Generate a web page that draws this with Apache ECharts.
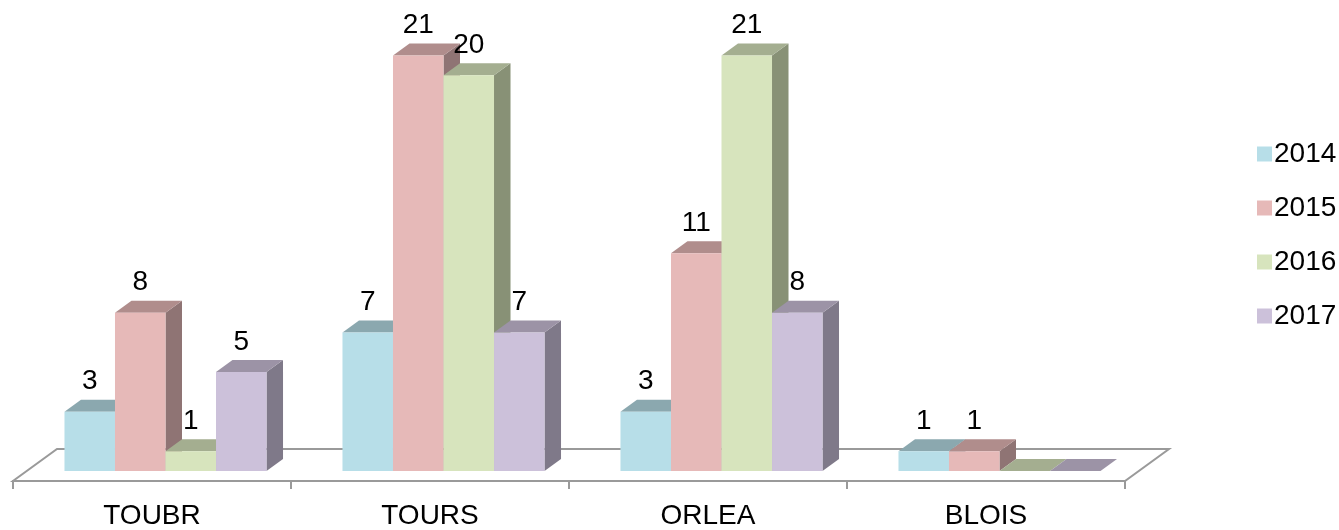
<!DOCTYPE html>
<html>
<head>
<meta charset="utf-8">
<style>
  html, body { margin: 0; padding: 0; background: #ffffff; }
  #chart { width: 1339px; height: 530px; }
</style>
<script src="https://cdn.jsdelivr.net/npm/echarts@6/dist/echarts.min.js"></script>
</head>
<body>
<div id="chart"></div>
<script>
// Sites and yearly counts
const categories = ['TOUBR', 'TOURS', 'ORLEA', 'BLOIS'];
const years = ['2014', '2015', '2016', '2017'];
const v2014 = [3, 7, 3, 1];
const v2015 = [8, 21, 11, 1];
const v2016 = [1, 20, 21, 0];
const v2017 = [5, 7, 8, 0];
const seriesValues = [v2014, v2015, v2016, v2017];

// Face colours per year: front, top, side
const faceColors = [
  { front: '#B7DEE8', top: '#8BA8AF', side: '#7D969C' },
  { front: '#E6B9B8', top: '#B08D8C', side: '#8F7474' },
  { front: '#D7E4BD', top: '#A4AE90', side: '#889176' },
  { front: '#CCC1DA', top: '#9C93A6', side: '#7F7989' }
];

// Pseudo-3D projection (pixels)
const FLOOR_DX = 44, FLOOR_DY = 32;   // floor depth
const BAR_OFF_X = 13.5, BAR_OFF_Y = 10; // bar front set back from floor front edge
const BAR_DX = 16.5, BAR_DY = 12;     // bar depth
const FONT = "'Liberation Sans', Arial, Helvetica, sans-serif";
const FONT_SIZE = 28;

const chart = echarts.init(document.getElementById('chart'), null, { renderer: 'canvas' });

function barRenderer(seriesIdx) {
  const col = faceColors[seriesIdx];
  return function (params, api) {
    const ci = api.value(0);
    const v = api.value(1);
    const base = api.coord([ci, 0]);
    const top = api.coord([ci, v]);
    const band = api.size([1, 0])[0];
    const bw = band * 0.1817;
    const x0 = base[0] - 2 * bw + seriesIdx * bw + BAR_OFF_X;
    const yb = base[1] - BAR_OFF_Y;
    const yt = top[1] - BAR_OFF_Y;
    const children = [
      {
        type: 'polygon',
        shape: { points: [[x0 + bw, yt], [x0 + bw + BAR_DX, yt - BAR_DY], [x0 + bw + BAR_DX, yb - BAR_DY], [x0 + bw, yb]] },
        style: { fill: col.side }
      },
      {
        type: 'polygon',
        shape: { points: [[x0, yt], [x0 + bw, yt], [x0 + bw + BAR_DX, yt - BAR_DY], [x0 + BAR_DX, yt - BAR_DY]] },
        style: { fill: col.top }
      },
      {
        type: 'rect',
        shape: { x: x0, y: yt, width: bw, height: yb - yt },
        style: { fill: col.front }
      }
    ];
    if (v > 0) {
      children.push({
        type: 'text',
        x: x0 + bw / 2,
        y: yt - BAR_DY - 4,
        style: {
          text: String(v),
          fill: '#000000',
          font: FONT_SIZE + 'px ' + FONT,
          align: 'center',
          verticalAlign: 'bottom'
        }
      });
    }
    return { type: 'group', children: children };
  };
}

const barSeries = years.map(function (y, si) {
  return {
    name: y,
    type: 'custom',
    clip: false,
    z: 10 + si,
    itemStyle: { color: faceColors[si].front },
    renderItem: barRenderer(si),
    data: categories.map(function (c, ci) { return [ci, seriesValues[si][ci]]; })
  };
});

// Floor plane under the bars
const floorSeries = {
  name: 'floor',
  type: 'custom',
  clip: false,
  silent: true,
  z: 2,
  renderItem: function (params, api) {
    const band = api.size([1, 0])[0];
    const first = api.coord([0, 0]);
    const last = api.coord([categories.length - 1, 0]);
    const L = first[0] - band / 2;
    const R = last[0] + band / 2;
    const y = first[1];
    return {
      type: 'polygon',
      shape: { points: [[L, y], [R, y], [R + FLOOR_DX, y - FLOOR_DY], [L + FLOOR_DX, y - FLOOR_DY]] },
      style: { fill: '#ffffff', stroke: '#9a9a9a', lineWidth: 2 }
    };
  },
  data: [[0, 0]]
};

chart.setOption({
  backgroundColor: '#ffffff',
  animation: false,
  textStyle: { fontFamily: FONT },
  grid: { left: 13, right: 214, top: 6, bottom: 48, containLabel: false },
  legend: {
    data: years,
    orient: 'vertical',
    left: 1252,
    top: 134,
    icon: 'rect',
    itemWidth: 15,
    itemHeight: 15,
    itemGap: 24,
    textStyle: { fontSize: FONT_SIZE, color: '#000000', fontFamily: FONT, lineHeight: 30, padding: [0, 0, 0, -3] }
  },
  xAxis: {
    type: 'category',
    data: categories,
    boundaryGap: true,
    axisLine: { show: true, lineStyle: { color: '#9a9a9a', width: 2 } },
    axisTick: { show: true, length: 8, lineStyle: { color: '#9a9a9a', width: 2 } },
    axisLabel: { fontSize: FONT_SIZE, color: '#000000', margin: 21, fontFamily: FONT },
    splitLine: { show: false }
  },
  yAxis: {
    type: 'value',
    min: 0,
    max: 24,
    show: false,
    splitLine: { show: false }
  },
  series: [floorSeries].concat(barSeries)
});
</script>
</body>
</html>
